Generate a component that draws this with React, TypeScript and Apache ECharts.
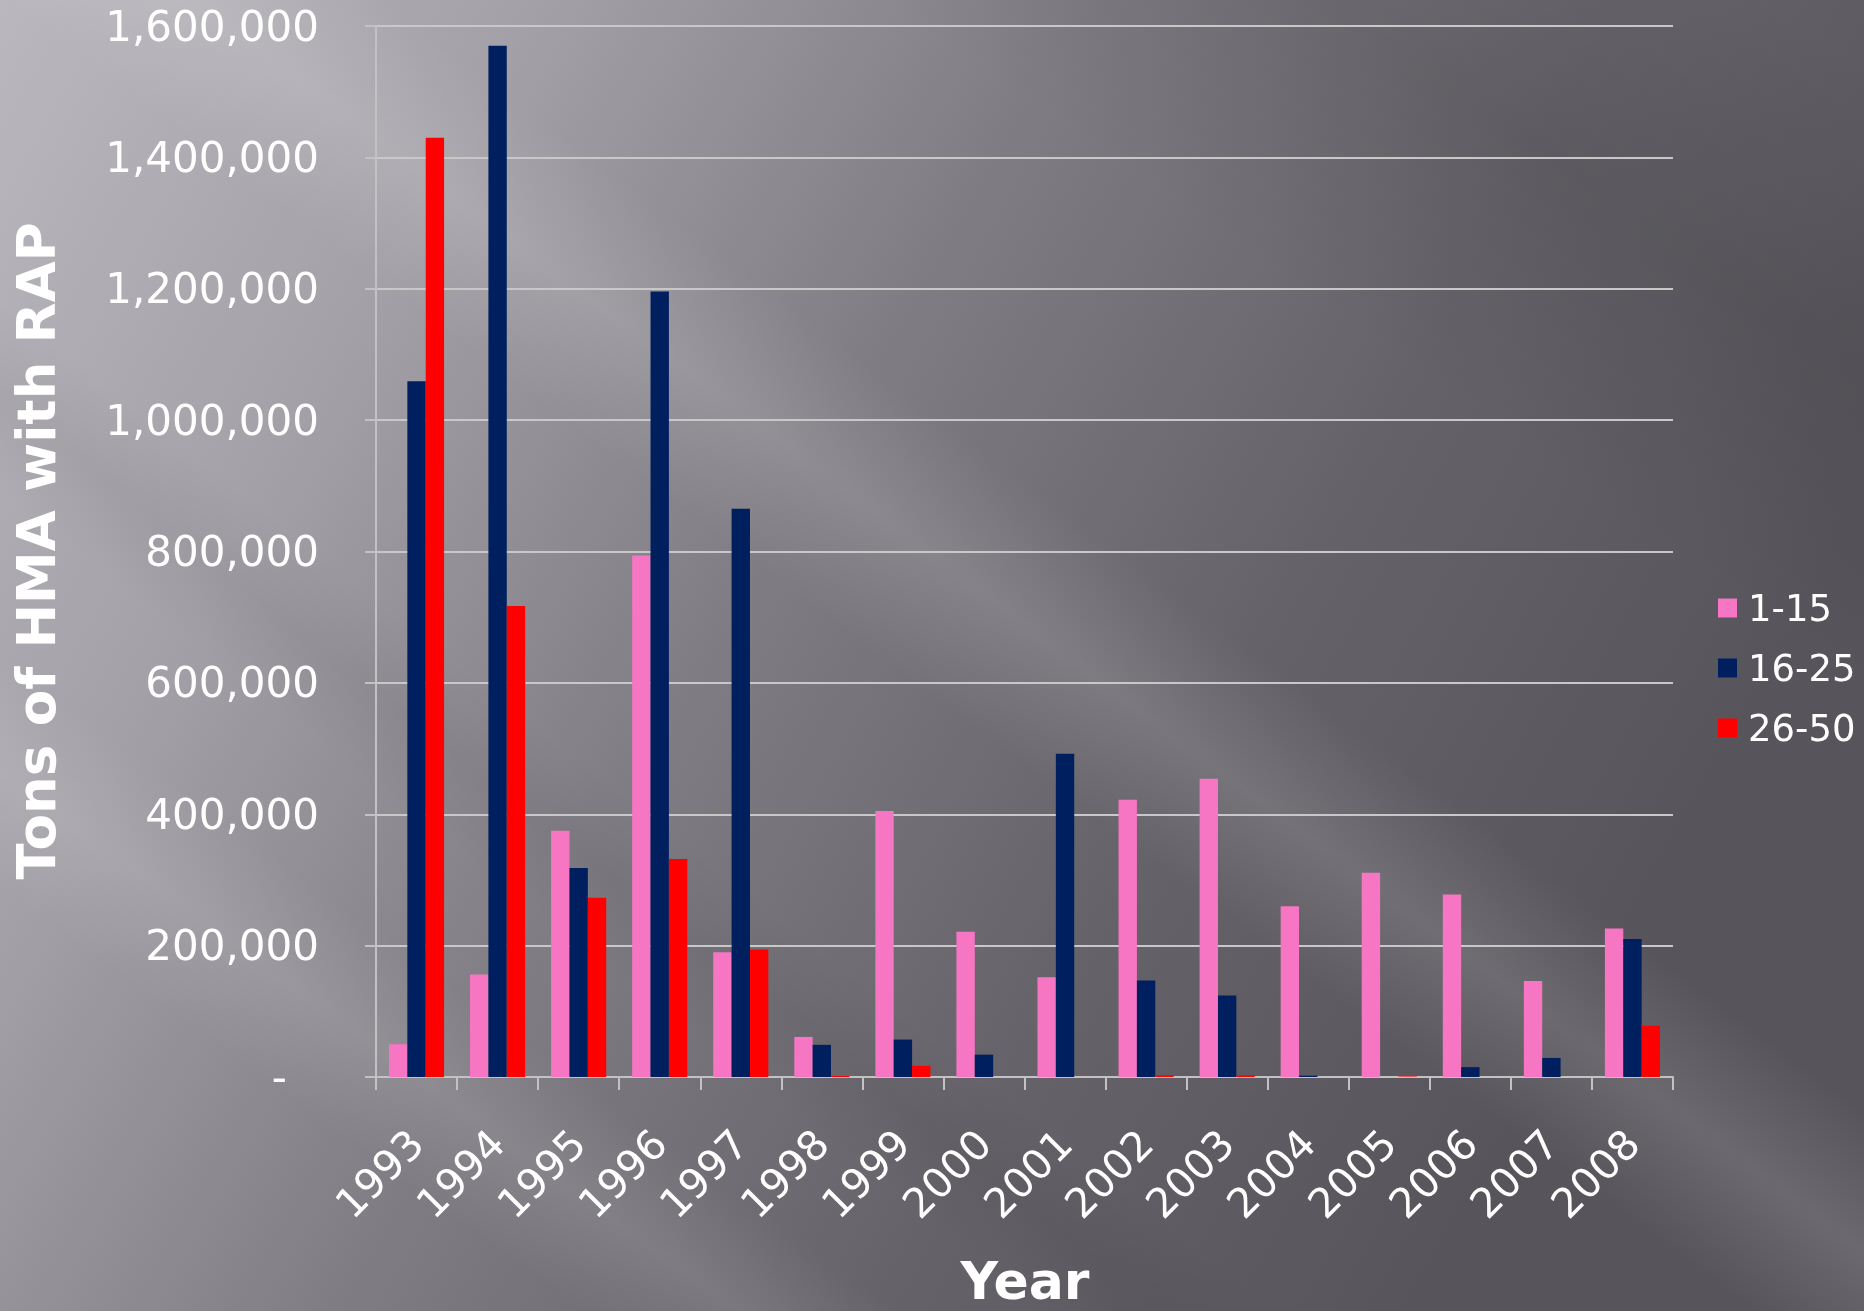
import React, { useEffect, useRef } from "react";
import * as echarts from "echarts";

// Tons of hot-mix asphalt placed with reclaimed asphalt pavement, by RAP percentage band
const years = [
  "1993", "1994", "1995", "1996", "1997", "1998", "1999", "2000",
  "2001", "2002", "2003", "2004", "2005", "2006", "2007", "2008",
];
const tons1to15 = [
  50000, 156000, 375000, 794000, 190000, 61000, 405000, 221000,
  152000, 422000, 454000, 260000, 311000, 278000, 146000, 226000,
];
const tons16to25 = [
  1059000, 1570000, 318000, 1196000, 865000, 49000, 57000, 34000,
  492000, 147000, 124000, 2000, 0, 15000, 29000, 210000,
];
const tons26to50 = [
  1430000, 717000, 273000, 332000, 194000, 1500, 17000, 0,
  0, 2500, 2500, 0, 800, 0, 0, 78000,
];
const seriesNames = ["1-15", "16-25", "26-50"];
const seriesValues = [tons1to15, tons16to25, tons26to50];
const seriesColors = ["#f676c4", "#001f5f", "#ff0000"];

const yMin = 0;
const yMax = 1600000;
const yStep = 200000;

const W = 1864;
const H = 1311;
const FONT = '"DejaVu Sans", Verdana, sans-serif';

// soft diagonal streaks over the slide background: [x1, y1, x2, y2, width, rgb, alpha]
// every streak runs from off-canvas to off-canvas so no end edge shows
const streaks: [number, number, number, number, number, string, number][] = [
  [-300, -370, 1900, 1280, 230, "255,255,255", 0.12],
  [-400, 480, 1000, 1500, 190, "255,255,255", 0.1],
  [-300, 160, 1300, 1420, 150, "0,0,0", 0.05],
  [900, -300, 2400, 750, 520, "0,0,0", 0.08],
];

function streak([x1, y1, x2, y2, w, rgb, alpha]: [number, number, number, number, number, string, number]) {
  const dx = x2 - x1;
  const dy = y2 - y1;
  const len = Math.hypot(dx, dy);
  const nx = (-dy / len) * (w / 2);
  const ny = (dx / len) * (w / 2);
  const mx = (x1 + x2) / 2;
  const my = (y1 + y2) / 2;
  return {
    type: "polygon",
    silent: true,
    z: -90,
    shape: {
      points: [
        [x1 + nx, y1 + ny],
        [x2 + nx, y2 + ny],
        [x2 - nx, y2 - ny],
        [x1 - nx, y1 - ny],
      ],
    },
    style: {
      fill: new echarts.graphic.LinearGradient(
        mx + nx, my + ny, mx - nx, my - ny,
        [
          { offset: 0, color: `rgba(${rgb},0)` },
          { offset: 0.5, color: `rgba(${rgb},${alpha})` },
          { offset: 1, color: `rgba(${rgb},0)` },
        ],
        true
      ),
    },
  };
}

function formatTons(v: number) {
  if (v === 0) return "{z|-}";
  return v.toLocaleString("en-US");
}

export default function App() {
  const ref = useRef<HTMLDivElement>(null);

  useEffect(() => {
    if (!ref.current) return;
    const chart = echarts.init(ref.current, undefined, { renderer: "svg" });

    const option = {
      animation: false,
      textStyle: { fontFamily: FONT },
      grid: {
        left: 376,
        right: W - 1673,
        top: 26,
        bottom: H - 1077,
        containLabel: false,
        outerBoundsMode: "none",
      },
      legend: {
        orient: "vertical",
        left: 1713,
        top: 583,
        itemWidth: 19,
        itemHeight: 19,
        itemGap: 20,
        icon: "rect",
        data: seriesNames,
        textStyle: {
          color: "#ffffff",
          fontSize: 37,
          lineHeight: 40,
          fontFamily: FONT,
          padding: [0, 0, 0, 6],
        },
      },
      xAxis: {
        type: "category",
        data: years,
        boundaryGap: true,
        axisLine: { show: true, lineStyle: { color: "#c2c2c2", width: 2 } },
        axisTick: {
          show: true,
          interval: 0,
          length: 13,
          lineStyle: { color: "#c2c2c2", width: 2 },
        },
        axisLabel: {
          interval: 0,
          rotate: 45,
          margin: 60,
          color: "#ffffff",
          fontSize: 41,
          fontFamily: FONT,
        },
      },
      yAxis: {
        type: "value",
        min: yMin,
        max: yMax,
        interval: yStep,
        axisLine: { show: true, lineStyle: { color: "#c2c2c2", width: 2 } },
        axisTick: { show: true, length: 11, lineStyle: { color: "#c2c2c2", width: 2 } },
        splitLine: { show: true, lineStyle: { color: "#c8c8c8", width: 2 } },
        axisLabel: {
          margin: 57,
          color: "#ffffff",
          fontSize: 42,
          fontFamily: FONT,
          formatter: formatTons,
          rich: {
            z: {
              color: "#ffffff",
              fontSize: 42,
              fontFamily: FONT,
              padding: [0, 32, 0, 0],
            },
          },
        },
      },
      series: seriesNames.map((name, i) => ({
        name,
        type: "bar",
        data: seriesValues[i],
        barGap: "0%",
        barCategoryGap: "32%",
        itemStyle: { color: seriesColors[i] },
      })),
      graphic: [
        {
          type: "rect",
          silent: true,
          z: -100,
          shape: { x: 0, y: 0, width: W, height: H },
          style: {
            fill: new echarts.graphic.LinearGradient(0, 0, 1, 0.4, [
              { offset: 0, color: "#bab8be" },
              { offset: 0.25, color: "#a3a1a7" },
              { offset: 0.5, color: "#7f7d83" },
              { offset: 0.75, color: "#656369" },
              { offset: 1, color: "#57555b" },
            ]),
          },
        },
        ...streaks.map(streak),
        {
          type: "text",
          x: 36,
          y: 551,
          rotation: Math.PI / 2,
          z: 10,
          style: {
            text: "Tons of HMA with RAP",
            fill: "#ffffff",
            fontSize: 53,
            fontWeight: "bold",
            fontFamily: FONT,
            align: "center",
            verticalAlign: "middle",
            textAlign: "center",
            textVerticalAlign: "middle",
          },
        },
        {
          type: "text",
          x: 1025,
          y: 1281,
          z: 10,
          style: {
            text: "Year",
            fill: "#ffffff",
            fontSize: 52,
            lineHeight: 52,
            fontWeight: "bold",
            fontFamily: FONT,
            align: "center",
            verticalAlign: "middle",
            textAlign: "center",
            textVerticalAlign: "middle",
          },
        },
      ],
    };

    chart.setOption(option);
    return () => chart.dispose();
  }, []);

  return (
    <div
      ref={ref}
      style={{ position: "fixed", left: 0, top: 0, width: W, height: H }}
    />
  );
}
